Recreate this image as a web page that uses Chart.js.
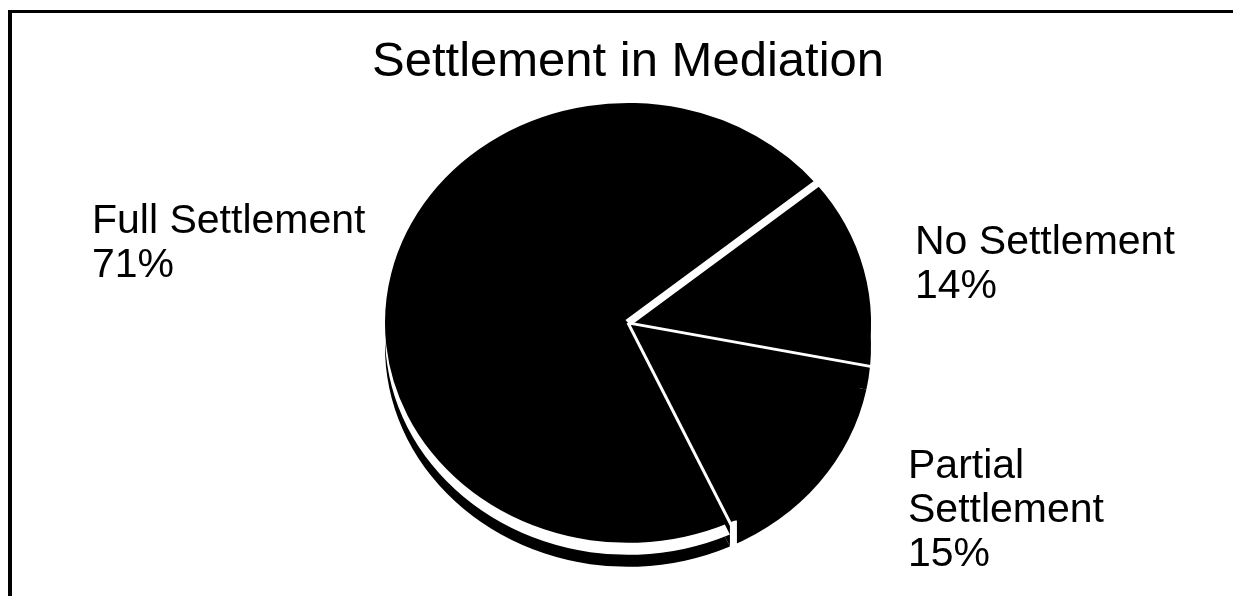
<!DOCTYPE html>
<html>
<head>
<meta charset="utf-8">
<script src="https://cdn.jsdelivr.net/npm/chart.js@4.4.1/dist/chart.umd.min.js"></script>
<style>
  html, body { margin: 0; padding: 0; background: #fff; }
  #wrap { position: relative; width: 1233px; height: 596px; }
  #frame { position: absolute; left: 8px; top: 10px; right: 0; bottom: 0;
           border-top: 3px solid #000; border-left: 4px solid #000; }
  canvas { position: absolute; left: 0; top: 0; }
</style>
</head>
<body>
<div id="wrap">
  <div id="frame"></div>
  <canvas id="myChart" width="1233" height="596"></canvas>
</div>
<script>
// chart data
var categories = [['Full Settlement'], ['No Settlement'], ['Partial', 'Settlement']];
var percents = [71, 14, 15];
var chartTitle = 'Settlement in Mediation';

var FONT = "'Liberation Sans', Arial, Helvetica, sans-serif";

// squashes the pie into an ellipse, draws a dark side under it
// and white cuts between the slices
var pie3d = {
  id: 'pie3d',
  beforeDatasetsDraw: function(chart, args, opts) {
    var ctx = chart.ctx;
    var arcs = chart.getDatasetMeta(0).data;
    var cx = arcs[0].x, cy = arcs[0].y;

    function slice(a, dy, color) {
      ctx.save();
      ctx.translate(0, dy);
      ctx.translate(cx, cy);
      ctx.scale(1, opts.tilt);
      ctx.translate(-cx, -cy);
      ctx.beginPath();
      ctx.moveTo(a.x, a.y);
      ctx.arc(a.x, a.y, a.outerRadius, a.startAngle, a.endAngle);
      ctx.closePath();
      ctx.fillStyle = color;
      ctx.fill();
      ctx.restore();
    }

    arcs.forEach(function(a) { slice(a, opts.depth, '#000'); });
    // white rim between the big slice and its side
    slice(arcs[0], opts.depth / 2, '#fff');

    // white edge on the side where the big slice ends
    var a0 = arcs[0];
    var ex = cx + a0.outerRadius * Math.cos(a0.startAngle);
    var ey = cy + a0.outerRadius * Math.sin(a0.startAngle) * opts.tilt;
    ctx.save();
    ctx.fillStyle = '#fff';
    ctx.fillRect(ex, ey - 2, 7, opts.depth + 4);
    ctx.restore();

    ctx.save();
    ctx.translate(cx, cy);
    ctx.scale(1, opts.tilt);
    ctx.translate(-cx, -cy);
  },
  afterDatasetsDraw: function(chart, args, opts) {
    var ctx = chart.ctx;
    var arcs = chart.getDatasetMeta(0).data;
    ctx.strokeStyle = '#fff';
    ctx.lineCap = 'butt';
    arcs.forEach(function(a, i) {
      ctx.lineWidth = opts.cuts[i];
      ctx.beginPath();
      ctx.moveTo(a.x, a.y);
      ctx.lineTo(a.x + (a.outerRadius + 4) * Math.cos(a.startAngle),
                 a.y + (a.outerRadius + 4) * Math.sin(a.startAngle));
      ctx.stroke();
    });
    ctx.restore();
  }
};

// text labels beside the pie
var sliceLabels = {
  id: 'sliceLabels',
  afterDraw: function(chart, args, opts) {
    var ctx = chart.ctx;
    ctx.save();
    ctx.fillStyle = '#000';
    ctx.font = opts.size + 'px ' + FONT;
    ctx.textAlign = 'left';
    ctx.textBaseline = 'alphabetic';
    chart.data.labels.forEach(function(lbl, i) {
      var lines = lbl.concat([chart.data.datasets[0].data[i] + '%']);
      var p = opts.pos[i];
      lines.forEach(function(t, k) {
        ctx.fillText(t, p[0], p[1] + k * opts.lineGap);
      });
    });
    ctx.restore();
  }
};

var ctx = document.getElementById('myChart').getContext('2d');
var myChart = new Chart(ctx, {
  type: 'pie',
  data: {
    labels: categories,
    datasets: [{
      data: percents,
      backgroundColor: '#000',
      borderWidth: 0,
      radius: 243,
      clip: false
    }]
  },
  options: {
    responsive: false,
    animation: false,
    events: [],
    rotation: 155.2,
    layout: { padding: { left: 23, right: 0, top: 0, bottom: 42 } },
    plugins: {
      legend: { display: false },
      tooltip: { enabled: false },
      title: {
        display: true,
        text: chartTitle,
        color: '#000',
        font: { family: FONT, size: 49, weight: 'normal' },
        padding: { top: 33, bottom: 0 }
      },
      pie3d: { tilt: 0.905, depth: 24, cuts: [3, 8, 3] },
      sliceLabels: {
        size: 41,
        lineGap: 44,
        pos: [[92, 233], [915, 254], [908, 478]]
      }
    }
  },
  plugins: [pie3d, sliceLabels]
});
</script>
</body>
</html>
